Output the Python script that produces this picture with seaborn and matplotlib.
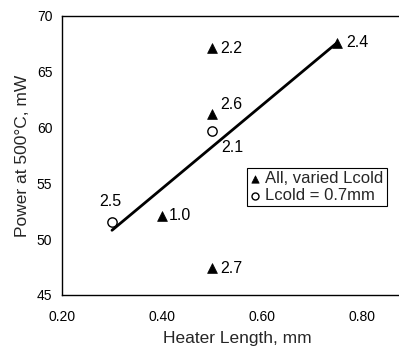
import matplotlib
matplotlib.use("Agg")
import matplotlib.pyplot as plt
import seaborn as sns

sns.set_theme(style="white")
plt.rcParams['font.family'] = ['Liberation Sans', 'DejaVu Sans']

# Data
tri_x = [0.40, 0.50, 0.50, 0.50, 0.75]
tri_y = [52.1, 67.1, 61.2, 47.4, 67.6]
tri_lab = ["1.0", "2.2", "2.6", "2.7", "2.4"]

circ_x = [0.30, 0.50]
circ_y = [51.5, 59.7]
circ_lab = ["2.5", "2.1"]

fit_x = [0.30, 0.75]
fit_y = [50.8, 67.6]

x_ticks = [0.2, 0.4, 0.6, 0.8]
y_ticks = [45, 50, 55, 60, 65, 70]

fig = plt.figure(figsize=(3.99, 3.47), dpi=100)
ax = fig.add_axes([62/399, 52/347, 350/399, 279/347])

sns.lineplot(x=fit_x, y=fit_y, ax=ax, color="black", lw=2.0, legend=False)
sns.scatterplot(x=tri_x, y=tri_y, ax=ax, marker="^", color="black", s=50,
                edgecolor="black", linewidth=0.5, label="All, varied Lcold", zorder=3)
sns.scatterplot(x=circ_x, y=circ_y, ax=ax, marker="o", facecolor="white", s=45,
                edgecolor="black", linewidth=1.0, label="Lcold = 0.7mm", zorder=3)

# labels: offsets in points
offs = {"1.0": (5, 0, "left", "center"),
        "2.2": (6, 0, "left", "center"),
        "2.6": (6, 7, "left", "center"),
        "2.7": (6, 0, "left", "center"),
        "2.4": (7, 0, "left", "center"),
        "2.5": (-1, 15, "center", "center"),
        "2.1": (7, -12, "left", "center")}
for xs, ys, labs in [(tri_x, tri_y, tri_lab), (circ_x, circ_y, circ_lab)]:
    for x, y, t in zip(xs, ys, labs):
        dx, dy, ha, va = offs[t]
        ax.annotate(t, (x, y), xytext=(dx, dy), textcoords="offset points",
                    ha=ha, va=va, fontsize=11.5, color="black")

ax.set_xlim(0.2, 0.9)
ax.set_ylim(45, 70)
ax.set_xticks(x_ticks)
ax.set_xticklabels([f"{v:.2f}" for v in x_ticks])
ax.set_yticks(y_ticks)
ax.tick_params(axis="both", direction="out", length=3, width=0.8, colors="black",
               labelsize=10, pad=4)
ax.tick_params(axis="x", pad=8)
for s in ax.spines.values():
    s.set_color("black")
    s.set_linewidth(1.0)
ax.set_xlabel("Heater Length, mm", fontsize=12.5, labelpad=5)
ax.set_ylabel("Power at 500°C, mW", fontsize=12.5, labelpad=5)

leg = ax.legend(loc="upper left", bbox_to_anchor=((247-62)/350, (295-168)/279),
                fontsize=12, frameon=True, fancybox=False, framealpha=1,
                edgecolor="black", handlelength=0.5, handletextpad=0.4,
                borderpad=0.2, labelspacing=0.1, borderaxespad=0,
                markerscale=0.75)
leg.get_frame().set_linewidth(0.8)

fig.savefig("out.png", dpi=100)
